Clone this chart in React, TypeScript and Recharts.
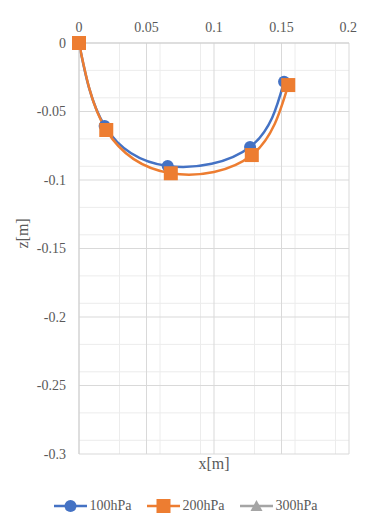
import React from 'react';
import {
  LineChart,
  Line,
  XAxis,
  YAxis,
  CartesianGrid,
  Legend,
} from 'recharts';

const xTicks = [0, 0.05, 0.1, 0.15, 0.2];
const zTicks = [0, -0.05, -0.1, -0.15, -0.2, -0.25, -0.3];
const xMinor = [0.01, 0.02, 0.03, 0.04, 0.06, 0.07, 0.08, 0.09, 0.11, 0.12, 0.13, 0.14, 0.16, 0.17, 0.18, 0.19];
const zMinor = [
  -0.01, -0.02, -0.03, -0.04, -0.06, -0.07, -0.08, -0.09, -0.11, -0.12, -0.13, -0.14,
  -0.16, -0.17, -0.18, -0.19, -0.21, -0.22, -0.23, -0.24, -0.26, -0.27, -0.28, -0.29,
];

const p100 = [
  { x: 0, z: 0 },
  { x: 0.019, z: -0.0605 },
  { x: 0.0657, z: -0.0898 },
  { x: 0.1267, z: -0.0759 },
  { x: 0.1519, z: -0.0282 },
];
const p200 = [
  { x: 0, z: 0 },
  { x: 0.0202, z: -0.0635 },
  { x: 0.068, z: -0.0951 },
  { x: 0.128, z: -0.0818 },
  { x: 0.155, z: -0.0307 },
];
const p300: { x: number; z: number }[] = [];

const series = [
  { name: '100hPa', color: '#4472C4', marker: 'circle', data: p100 },
  { name: '200hPa', color: '#ED7D31', marker: 'square', data: p200 },
  { name: '300hPa', color: '#A5A5A5', marker: 'triangle', data: p300 },
];

const FONT = '"Liberation Serif", serif';
const TXT = '#595959';

function Marker({ cx, cy, kind, color }: { cx: number; cy: number; kind: string; color: string }) {
  if (cx == null || cy == null) return null;
  if (kind === 'square') {
    return <rect x={cx - 7} y={cy - 7} width={14} height={14} fill={color} />;
  }
  if (kind === 'triangle') {
    return <polygon points={`${cx},${cy - 6} ${cx + 6},${cy + 5} ${cx - 6},${cy + 5}`} fill={color} />;
  }
  return <circle cx={cx} cy={cy} r={6} fill={color} />;
}

function LegendBox() {
  return (
    <div style={{ display: 'flex', justifyContent: 'center', gap: 15, paddingLeft: 14, fontFamily: FONT, fontSize: 14, lineHeight: '16px', color: TXT }}>
      {series.map(s => (
        <div key={s.name} style={{ display: 'flex', alignItems: 'center' }}>
          <svg width={33} height={14}>
            <line x1={0} y1={7} x2={33} y2={7} stroke={s.color} strokeWidth={2.5} />
            <Marker cx={16.5} cy={7} kind={s.marker} color={s.color} />
          </svg>
          <span style={{ marginLeft: 3 }}>{s.name}</span>
        </div>
      ))}
    </div>
  );
}

export default function App() {
  return (
    <div style={{ fontFamily: FONT }}>
      <LineChart width={349} height={505} margin={{ top: 5, right: 8, bottom: 5, left: 0 }}>
        <CartesianGrid xAxisId="top" stroke="#ececec" verticalValues={xMinor} horizontalValues={zMinor} />
        <CartesianGrid xAxisId="top" stroke="#d9d9d9" verticalValues={xTicks} horizontalValues={zTicks} />
        <XAxis
          xAxisId="top"
          orientation="top"
          type="number"
          dataKey="x"
          domain={[0, 0.2]}
          ticks={xTicks}
          height={30}
          tickLine={false}
          tickMargin={5}
          axisLine={{ stroke: '#d0d0d0' }}
          tick={{ fill: TXT, fontSize: 14, fontFamily: FONT }}
        />
        <XAxis
          xAxisId="bottom"
          orientation="bottom"
          type="number"
          dataKey="x"
          domain={[0, 0.2]}
          height={30}
          tick={false}
          tickLine={false}
          axisLine={false}
          label={{ value: 'x[m]', position: 'insideTop', offset: 4, fill: TXT, fontSize: 16, fontFamily: FONT }}
        />
        <YAxis
          type="number"
          dataKey="z"
          domain={[-0.3, 0]}
          ticks={zTicks}
          width={71}
          tickLine={false}
          tickMargin={7}
          axisLine={{ stroke: '#d0d0d0' }}
          tick={{ fill: TXT, fontSize: 14, fontFamily: FONT }}
          label={{ value: 'z[m]', angle: -90, position: 'insideLeft', offset: 14, fill: TXT, fontSize: 16, fontFamily: FONT }}
        />
        <Legend verticalAlign="bottom" height={24} wrapperStyle={{ top: 490 }} content={() => <LegendBox />} />
        {series.map(s => (
          <Line
            key={s.name}
            xAxisId="top"
            data={s.data}
            dataKey="z"
            name={s.name}
            type="natural"
            stroke={s.color}
            strokeWidth={2.5}
            isAnimationActive={false}
            dot={(p: any) => <Marker key={`${s.name}-${p.index}`} cx={p.cx} cy={p.cy} kind={s.marker} color={s.color} />}
            activeDot={false}
          />
        ))}
      </LineChart>
    </div>
  );
}
